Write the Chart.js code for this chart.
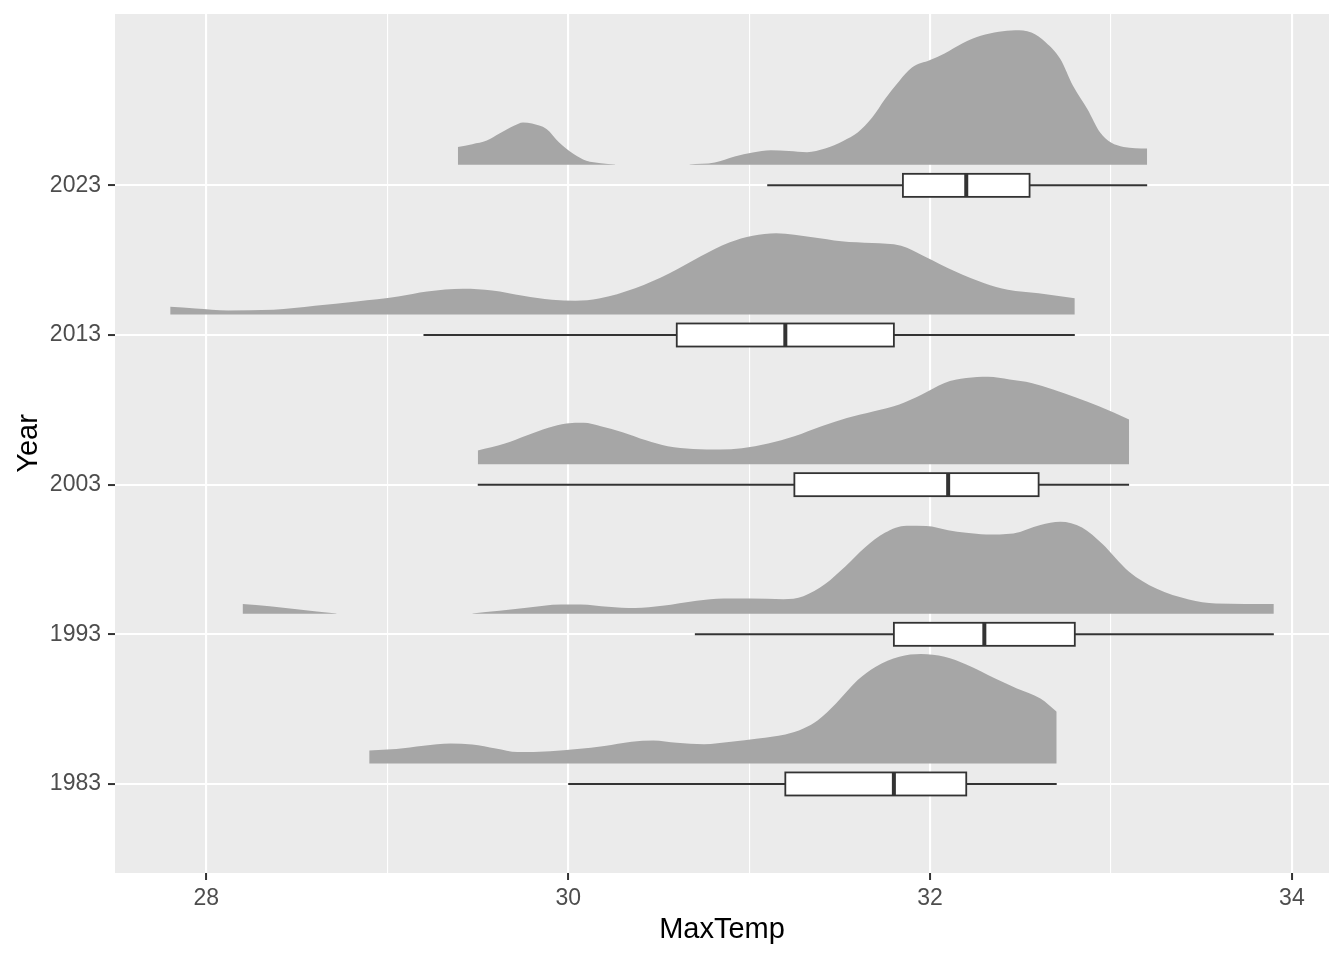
<!DOCTYPE html>
<html>
<head>
<meta charset="utf-8">
<script src="https://cdn.jsdelivr.net/npm/chart.js@4.4.1/dist/chart.umd.min.js"></script>
<style>
  html, body { margin: 0; padding: 0; background: #ffffff; }
  canvas { display: block; }
</style>
</head>
<body>
<canvas id="chart" width="1344" height="960"></canvas>
<script>
// ── data ───────────────────────────────────────────
const years = ['1983', '1993', '2003', '2013', '2023'];

// boxplot stats per year (same order as years)
const whiskerLow  = [30.0, 30.7, 29.5, 29.2, 31.1];
const q1          = [31.2, 31.8, 31.25, 30.6, 31.85];
const medians     = [31.8, 32.3, 32.1, 31.2, 32.2];
const q3          = [32.2, 32.8, 32.6, 31.8, 32.55];
const whiskerHigh = [32.7, 33.9, 33.1, 32.8, 33.2];

// half-eye densities: [MaxTemp, height], null height = gap
const dens1983 = [
  [28.90, 0.087], [29.05, 0.096], [29.20, 0.118], [29.35, 0.134], [29.47, 0.127],
  [29.60, 0.100], [29.72, 0.076], [29.90, 0.082], [30.05, 0.096], [30.20, 0.116],
  [30.35, 0.145], [30.47, 0.154], [30.60, 0.138], [30.75, 0.129], [30.90, 0.145],
  [31.05, 0.167], [31.20, 0.194], [31.30, 0.234], [31.38, 0.289], [31.48, 0.401],
  [31.60, 0.557], [31.70, 0.646], [31.83, 0.713], [31.95, 0.731], [32.08, 0.713],
  [32.20, 0.662], [32.36, 0.568], [32.48, 0.501], [32.61, 0.434], [32.70, 0.346]
];
const dens1993 = [
  [28.20, 0.065], [28.35, 0.051], [28.50, 0.031], [28.72, 0.002], [29.10, null],
  [29.47, 0.002], [29.62, 0.020], [29.77, 0.040], [29.96, 0.062], [30.07, 0.062],
  [30.22, 0.047], [30.37, 0.038], [30.52, 0.053], [30.71, 0.087], [30.86, 0.102],
  [31.01, 0.102], [31.19, 0.098], [31.30, 0.118], [31.42, 0.199], [31.53, 0.314],
  [31.64, 0.443], [31.75, 0.541], [31.87, 0.588], [31.98, 0.586], [32.10, 0.559],
  [32.20, 0.541], [32.31, 0.530], [32.46, 0.537], [32.61, 0.593], [32.72, 0.615],
  [32.84, 0.577], [32.95, 0.470], [33.10, 0.281], [33.25, 0.169], [33.43, 0.096],
  [33.58, 0.069], [33.90, 0.065]
];
const dens2003 = [
  [29.50, 0.092], [29.65, 0.138], [29.77, 0.192], [29.89, 0.243], [29.99, 0.272],
  [30.085, 0.276], [30.18, 0.254], [30.30, 0.214], [30.43, 0.160], [30.55, 0.120],
  [30.69, 0.102], [30.84, 0.098], [30.96, 0.107], [31.105, 0.138], [31.25, 0.187],
  [31.40, 0.254], [31.54, 0.309], [31.69, 0.354], [31.83, 0.399], [31.955, 0.466],
  [32.08, 0.543], [32.20, 0.575], [32.32, 0.584], [32.44, 0.566], [32.56, 0.543],
  [32.68, 0.499], [32.81, 0.443], [32.93, 0.388], [33.10, 0.299]
];
const dens2013 = [
  [27.80, 0.051], [27.94, 0.040], [28.12, 0.027], [28.37, 0.031], [28.60, 0.058],
  [28.83, 0.087], [29.06, 0.120], [29.22, 0.154], [29.42, 0.172], [29.58, 0.160],
  [29.75, 0.125], [29.91, 0.098], [30.04, 0.092], [30.17, 0.107], [30.37, 0.176],
  [30.56, 0.276], [30.73, 0.388], [30.89, 0.481], [31.02, 0.526], [31.15, 0.543],
  [31.35, 0.517], [31.51, 0.490], [31.68, 0.477], [31.84, 0.459], [31.97, 0.388],
  [32.14, 0.287], [32.30, 0.209], [32.43, 0.165], [32.60, 0.142], [32.80, 0.109]
];
const dens2023 = [
  [29.39, 0.120], [29.47, 0.138], [29.55, 0.162], [29.62, 0.209], [29.70, 0.261],
  [29.75, 0.283], [29.80, 0.276], [29.88, 0.239], [29.95, 0.149], [30.03, 0.072],
  [30.10, 0.027], [30.18, 0.011], [30.26, 0.002], [30.46, null], [30.67, 0.002],
  [30.81, 0.015], [30.92, 0.055], [31.02, 0.082], [31.12, 0.098], [31.22, 0.092],
  [31.32, 0.085], [31.42, 0.109], [31.52, 0.160], [31.60, 0.216], [31.68, 0.316],
  [31.75, 0.439], [31.83, 0.561], [31.90, 0.650], [32.00, 0.700], [32.08, 0.744],
  [32.18, 0.813], [32.28, 0.862], [32.38, 0.889], [32.47, 0.900], [32.56, 0.884],
  [32.64, 0.818], [32.72, 0.707], [32.79, 0.528], [32.87, 0.372], [32.94, 0.216],
  [33.00, 0.149], [33.07, 0.120], [33.20, 0.109]
];
const densities = [dens1983, dens1993, dens2003, dens2013, dens2023];

// axis ticks
const xTickLabels = [28, 30, 32, 34];
const xMinorGrid  = [29, 31, 33];

// ── look ──────────────────────────────────────────
const DENS_OFFSET = 0.137;   // density baseline sits a bit above the box
const BOX_HALF = 0.077;
const INK = '#333333';
Chart.defaults.font.family = '"Liberation Sans", Arial, sans-serif';

const densityDatasets = densities.map((d, i) => {
  const base = i + 1 + DENS_OFFSET;
  return {
    label: years[i],
    data: d.map(p => ({ x: p[0], y: p[1] === null ? null : base + p[1] })),
    backgroundColor: '#A6A6A6',
    borderColor: 'rgba(0,0,0,0)',
    borderWidth: 0,
    pointRadius: 0,
    cubicInterpolationMode: 'monotone',
    spanGaps: false,
    fill: { value: base }
  };
});

// panel background
const panelBg = {
  id: 'panelBg',
  beforeDraw(chart) {
    const { ctx, chartArea: a } = chart;
    ctx.save();
    ctx.fillStyle = '#EBEBEB';
    ctx.fillRect(a.left, a.top, a.right - a.left, a.bottom - a.top);
    ctx.restore();
  }
};

// boxplots, drawn through the chart's scales
const boxes = {
  id: 'boxes',
  afterDatasetsDraw(chart) {
    const { ctx, scales: { x, y } } = chart;
    ctx.save();
    ctx.strokeStyle = INK;
    years.forEach((yr, i) => {
      const cy = y.getPixelForValue(i + 1);
      const top = y.getPixelForValue(i + 1 + BOX_HALF);
      const bot = y.getPixelForValue(i + 1 - BOX_HALF);
      const xl = x.getPixelForValue(whiskerLow[i]);
      const x1 = x.getPixelForValue(q1[i]);
      const xm = x.getPixelForValue(medians[i]);
      const x3 = x.getPixelForValue(q3[i]);
      const xh = x.getPixelForValue(whiskerHigh[i]);

      ctx.lineWidth = 2;
      ctx.beginPath();
      ctx.moveTo(xl, cy); ctx.lineTo(x1, cy);
      ctx.moveTo(x3, cy); ctx.lineTo(xh, cy);
      ctx.stroke();

      ctx.fillStyle = '#FFFFFF';
      ctx.fillRect(x1, top, x3 - x1, bot - top);
      ctx.lineWidth = 1.8;
      ctx.strokeRect(x1, top, x3 - x1, bot - top);

      ctx.lineWidth = 4;
      ctx.beginPath();
      ctx.moveTo(xm, top); ctx.lineTo(xm, bot);
      ctx.stroke();
    });
    ctx.restore();
  }
};

new Chart(document.getElementById('chart'), {
  type: 'line',
  data: { datasets: densityDatasets },
  options: {
    responsive: false,
    devicePixelRatio: 1,
    animation: false,
    layout: { padding: { top: 14, right: 15, left: 0, bottom: 0 } },
    plugins: { legend: { display: false }, tooltip: { enabled: false } },
    scales: {
      x: {
        type: 'linear',
        min: 27.495,
        max: 34.205,
        afterBuildTicks: s => {
          s.ticks = xTickLabels.concat(xMinorGrid).sort((a, b) => a - b).map(v => ({ value: v }));
        },
        afterFit: s => { s.height = 87; s.paddingLeft = 0; s.paddingRight = 0; },
        ticks: {
          autoSkip: false,
          maxRotation: 0,
          padding: 5,
          color: '#4D4D4D',
          font: { size: 23 },
          callback: v => xTickLabels.includes(v) ? String(v) : ''
        },
        grid: {
          color: '#FFFFFF',
          lineWidth: c => (c.tick && xTickLabels.includes(c.tick.value)) ? 2.1 : 1.1,
          tickLength: 7,
          tickWidth: 2,
          tickColor: c => (c.tick && xTickLabels.includes(c.tick.value)) ? INK : 'rgba(0,0,0,0)'
        },
        border: { display: false },
        title: {
          display: true,
          text: 'MaxTemp',
          color: '#000000',
          font: { size: 29 },
          padding: { top: 0, bottom: 13 }
        }
      },
      y: {
        type: 'linear',
        min: 0.405,
        max: 6.145,
        afterBuildTicks: s => {
          s.ticks = years.map((yr, i) => ({ value: i + 1 }));
        },
        afterFit: s => { s.width = 115; s.paddingTop = 0; s.paddingBottom = 0; },
        ticks: {
          autoSkip: false,
          padding: 7,
          color: '#4D4D4D',
          font: { size: 23 },
          callback: v => years[v - 1]
        },
        grid: {
          color: '#FFFFFF',
          lineWidth: 2.1,
          tickLength: 7,
          tickWidth: 2,
          tickColor: INK
        },
        border: { display: false },
        title: {
          display: true,
          text: 'Year',
          color: '#000000',
          font: { size: 29 },
          padding: { top: 12, bottom: 0 }
        }
      }
    }
  },
  plugins: [panelBg, boxes]
});
</script>
</body>
</html>
